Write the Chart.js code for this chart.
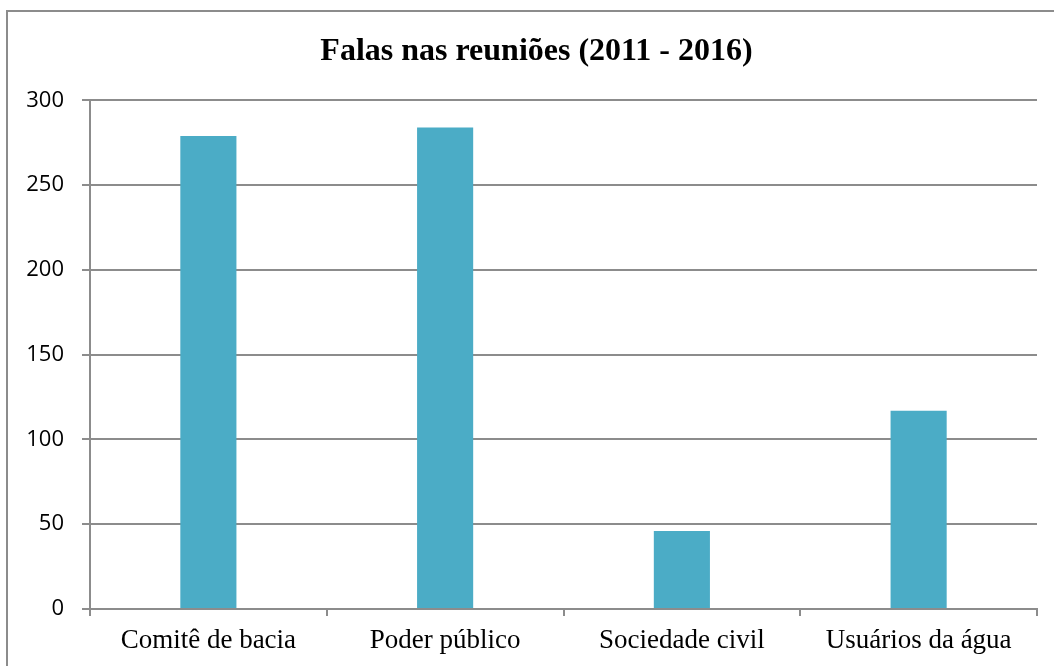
<!DOCTYPE html>
<html>
<head>
<meta charset="utf-8">
<script src="https://cdn.jsdelivr.net/npm/chart.js@4"></script>
<style>
  html, body { margin: 0; padding: 0; background: #fff; }
  #wrap { width: 1054px; height: 666px; position: relative; }
</style>
</head>
<body>
<div id="wrap"><canvas id="chart" width="1054" height="666"></canvas></div>
<script>
// dados
var categorias = ['Comitê de bacia', 'Poder público', 'Sociedade civil', 'Usuários da água'];
var falas = [279, 284, 46, 117];
var titulo = 'Falas nas reuniões (2011 - 2016)';

// moldura cinza em volta do gráfico (cortada à direita e embaixo)
var moldura = {
  id: 'moldura',
  afterLayout: function(chart) {
    // o título fica um pouco à direita do centro, como no original
    if (chart.titleBlock) {
      chart.titleBlock.left += 18;
      chart.titleBlock.right += 18;
    }
  },
  beforeDraw: function(chart) {
    var ctx = chart.ctx;
    ctx.save();
    ctx.fillStyle = '#fff';
    ctx.fillRect(0, 0, chart.width, chart.height);
    ctx.strokeStyle = '#8c8c8c';
    ctx.lineWidth = 2;
    ctx.strokeRect(7, 11, 1100, 700);
    ctx.restore();
  }
};

var ctx = document.getElementById('chart').getContext('2d');
var chart = new Chart(ctx, {
  type: 'bar',
  data: {
    labels: categorias,
    datasets: [{
      data: falas,
      backgroundColor: '#4bacc6',
      borderColor: '#4bacc6',
      borderWidth: 0,
      categoryPercentage: 1,
      barPercentage: 0.237
    }]
  },
  options: {
    responsive: false,
    animation: false,
    layout: { padding: { left: 0, right: 17, top: 0, bottom: 0 } },
    plugins: {
      legend: { display: false },
      tooltip: { enabled: false },
      title: {
        display: true,
        text: titulo,
        color: '#000',
        font: { family: '"Liberation Serif", "Times New Roman", serif', size: 32, weight: 'bold' },
        padding: { top: 33, bottom: 29 }
      }
    },
    scales: {
      x: {
        afterFit: function(s) { s.height = 57; },
        grid: { display: true, drawOnChartArea: false, offset: true, color: '#8c8c8c', lineWidth: 2, tickLength: 7 },
        border: { display: true, color: '#8c8c8c', width: 2 },
        ticks: {
          color: '#000',
          padding: 9,
          font: { family: '"Liberation Serif", "Times New Roman", serif', size: 27 }
        }
      },
      y: {
        min: 0,
        max: 300,
        afterFit: function(s) { s.width = 90; },
        grid: { color: '#8c8c8c', lineWidth: 2, tickLength: 8 },
        border: { display: true, color: '#8c8c8c', width: 2 },
        ticks: {
          stepSize: 50,
          color: '#000',
          padding: 18,
          font: { family: '"Open Sans", sans-serif', size: 22 }
        }
      }
    }
  },
  plugins: [moldura]
});
</script>
</body>
</html>
